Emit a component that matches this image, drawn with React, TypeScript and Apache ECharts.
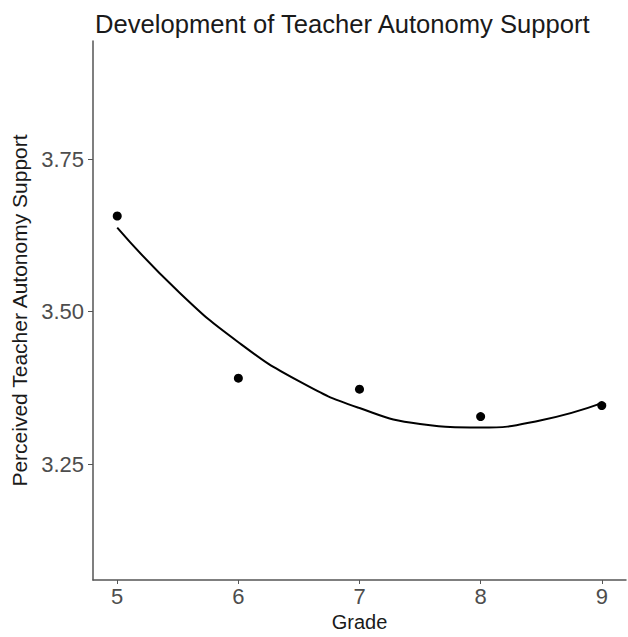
import React, { useEffect, useRef } from "react";
import * as echarts from "echarts";

const grades = [5, 6, 7, 8, 9];
const meanSupport = [3.657, 3.391, 3.373, 3.328, 3.346];
const fitGrades = [5, 5.5, 6, 6.5, 7, 7.5, 8, 8.5, 9];
const fitSupport = [3.638, 3.534, 3.45, 3.386, 3.342, 3.316, 3.31, 3.322, 3.35];
const yTicks = [3.25, 3.5, 3.75];
const xTicks = [5, 6, 7, 8, 9];

export default function App() {
  const ref = useRef<HTMLDivElement>(null);
  useEffect(() => {
    const chart = echarts.init(ref.current!, null, { renderer: "svg" });
    const font = "'Liberation Sans', Arial, sans-serif";
    chart.setOption({
      animation: false,
      title: {
        text: "Development of Teacher Autonomy Support",
        left: 90,
        top: 6,
        textStyle: { fontFamily: font, fontSize: 25.6, fontWeight: "normal", color: "#1a1a1a" },
      },
      grid: { left: 93, right: 2, top: 41, bottom: 53 },
      xAxis: {
        type: "value",
        min: 4.8,
        max: 9.2,
        name: "Grade",
        nameLocation: "middle",
        nameGap: 32,
        nameTextStyle: { fontFamily: font, fontSize: 20, color: "#1a1a1a" },
        splitLine: { show: false },
        axisLine: { onZero: false, lineStyle: { color: "#555", width: 1.5 } },
        axisTick: { show: true, length: 4, customValues: xTicks, lineStyle: { color: "#555" } },
        axisLabel: { customValues: xTicks, fontFamily: font, fontSize: 22, color: "#4d4d4d", margin: 5 },
      },
      yAxis: {
        type: "value",
        min: 3.06,
        max: 3.944,
        name: "Perceived Teacher Autonomy Support",
        nameLocation: "middle",
        nameGap: 56,
        nameTextStyle: { fontFamily: font, fontSize: 21, color: "#1a1a1a" },
        splitLine: { show: false },
        axisLine: { show: true, onZero: false, lineStyle: { color: "#555", width: 1.5 } },
        axisTick: { show: true, length: 5, customValues: yTicks, lineStyle: { color: "#555" } },
        axisLabel: {
          customValues: yTicks,
          fontFamily: font,
          fontSize: 22,
          color: "#4d4d4d",
          margin: 9,
          formatter: (v: number) => v.toFixed(2),
        },
      },
      series: [
        {
          type: "line",
          data: fitGrades.map((g, i) => [g, fitSupport[i]]),
          smooth: 0.5,
          showSymbol: false,
          lineStyle: { color: "#000", width: 2 },
        },
        {
          type: "scatter",
          data: grades.map((g, i) => [g, meanSupport[i]]),
          symbolSize: 9,
          itemStyle: { color: "#000", opacity: 1 },
        },
      ],
    });
    return () => chart.dispose();
  }, []);
  return (
    <div
      ref={ref}
      style={{ position: "fixed", left: 0, top: 0, width: 628, height: 637, background: "#fff" }}
    />
  );
}
